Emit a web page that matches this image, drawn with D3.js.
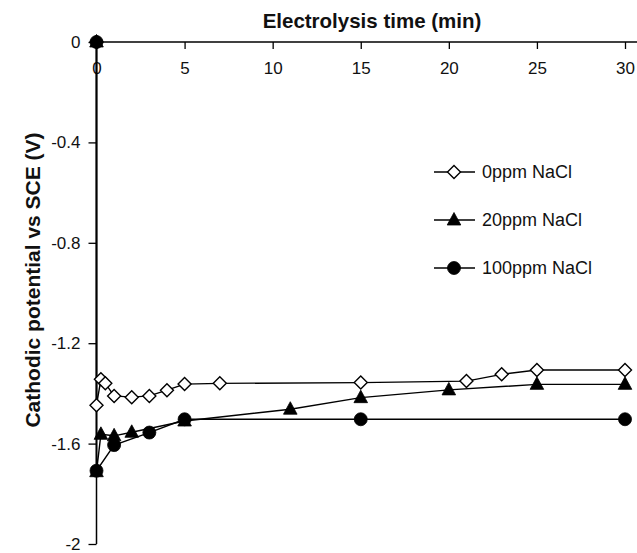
<!DOCTYPE html>
<html>
<head>
<meta charset="utf-8">
<script src="https://cdn.jsdelivr.net/npm/d3@7"></script>
<style>
  body { margin: 0; background: #fff; }
  svg { display: block; font-family: "Liberation Sans", Arial, sans-serif; }
</style>
</head>
<body>
<div id="wrapper"></div>
<script>
// data (time in min, potential in V vs SCE)
const time0 = [0, 0, 0.25, 0.5, 1, 2, 3, 4, 5, 7, 15, 21, 23, 25, 30];
const pot0 = [0, -1.447, -1.344, -1.36, -1.41, -1.415, -1.41, -1.387, -1.363, -1.36, -1.357, -1.351, -1.324, -1.307, -1.307];

const time20 = [0, 0, 0.25, 1, 2, 5, 11, 15, 20, 25, 30];
const pot20 = [0, -1.712, -1.563, -1.569, -1.555, -1.51, -1.463, -1.417, -1.386, -1.364, -1.364];

const time100 = [0, 0, 1, 3, 5, 15, 30];
const pot100 = [0, -1.708, -1.606, -1.556, -1.503, -1.503, -1.503];

const seriesNames = ["0ppm NaCl", "20ppm NaCl", "100ppm NaCl"];
const xTicks = [0, 5, 10, 15, 20, 25, 30];
const yTicks = [0, -0.4, -0.8, -1.2, -1.6, -2];

const series = [
  {name: seriesNames[0], marker: "diamond", pts: time0.map((t, i) => ({t, v: pot0[i]}))},
  {name: seriesNames[1], marker: "triangle", pts: time20.map((t, i) => ({t, v: pot20[i]}))},
  {name: seriesNames[2], marker: "circle", pts: time100.map((t, i) => ({t, v: pot100[i]}))}
];

const width = 637, height = 553;
const margin = {top: 42, left: 96.5};

const svg = d3.select("#wrapper").append("svg")
  .attr("width", width).attr("height", height);

const xScale = d3.scaleLinear().domain([0, 30]).range([margin.left, 625]);
const yScale = d3.scaleLinear().domain([0, -2]).range([margin.top, 544]);

// marker shapes
function markerPath(type) {
  if (type === "diamond") return "M0,-6.5L6.5,0L0,6.5L-6.5,0Z";
  if (type === "triangle") return "M0,-7.5L6.8,5L-6.8,5Z";
  return d3.symbol(d3.symbolCircle, Math.PI * 6.5 * 6.5)();
}
function markerStyle(sel, type) {
  sel.attr("d", markerPath(type))
    .attr("fill", type === "diamond" ? "#fff" : "#000")
    .attr("stroke", "#000")
    .attr("stroke-width", type === "diamond" ? 1.4 : 0.8);
}

// axes
const xAxis = svg.append("g")
  .attr("transform", `translate(0,${margin.top})`)
  .call(d3.axisBottom(xScale).tickValues(xTicks).tickSize(7).tickSizeOuter(0).tickFormat(d3.format("d")));
xAxis.select(".domain").remove();
xAxis.selectAll(".tick line").attr("stroke", "#000").attr("stroke-width", 1.3);
xAxis.selectAll(".tick text").attr("y", 20).attr("font-size", 17).attr("fill", "#111");

const yAxis = svg.append("g")
  .attr("transform", `translate(${margin.left},0)`)
  .call(d3.axisLeft(yScale).tickValues(yTicks).tickSize(8).tickPadding(8).tickSizeOuter(0)
    .tickFormat(d => String(d)));
yAxis.select(".domain").remove();
yAxis.selectAll(".tick line").attr("stroke", "#000").attr("stroke-width", 1.3);
yAxis.selectAll(".tick text").attr("font-size", 17).attr("fill", "#111");

svg.append("line")
  .attr("x1", margin.left).attr("x2", width)
  .attr("y1", margin.top).attr("y2", margin.top)
  .attr("stroke", "#000").attr("stroke-width", 1.5);
svg.append("line")
  .attr("x1", margin.left).attr("x2", margin.left)
  .attr("y1", margin.top).attr("y2", yScale(-2))
  .attr("stroke", "#000").attr("stroke-width", 1.5);

// titles
svg.append("text")
  .attr("x", 372).attr("y", 28)
  .attr("text-anchor", "middle")
  .attr("font-size", 20.5).attr("font-weight", "bold")
  .attr("fill", "#111")
  .text("Electrolysis time (min)");

svg.append("text")
  .attr("transform", "translate(40,280) rotate(-90)")
  .attr("text-anchor", "middle")
  .attr("font-size", 21).attr("font-weight", "bold")
  .attr("fill", "#111")
  .text("Cathodic potential vs SCE (V)");

// lines and markers
const line = d3.line().x(d => xScale(d.t)).y(d => yScale(d.v));

series.forEach(s => {
  svg.append("path")
    .attr("d", line(s.pts))
    .attr("fill", "none")
    .attr("stroke", "#000")
    .attr("stroke-width", 1.4);
});

series.forEach(s => {
  svg.append("g").selectAll("path")
    .data(s.pts)
    .join("path")
    .attr("transform", d => `translate(${xScale(d.t)},${yScale(d.v)})`)
    .call(markerStyle, s.marker);
});

// legend
const legend = svg.append("g");
series.forEach((s, i) => {
  const y = 172 + i * 48;
  legend.append("line")
    .attr("x1", 434).attr("x2", 475).attr("y1", y).attr("y2", y)
    .attr("stroke", "#000").attr("stroke-width", 1.4);
  legend.append("path")
    .attr("transform", `translate(454,${y})`)
    .call(markerStyle, s.marker);
  legend.append("text")
    .attr("x", 482).attr("y", y).attr("dy", "0.35em")
    .attr("font-size", 18).attr("fill", "#111")
    .text(s.name);
});
</script>
</body>
</html>
